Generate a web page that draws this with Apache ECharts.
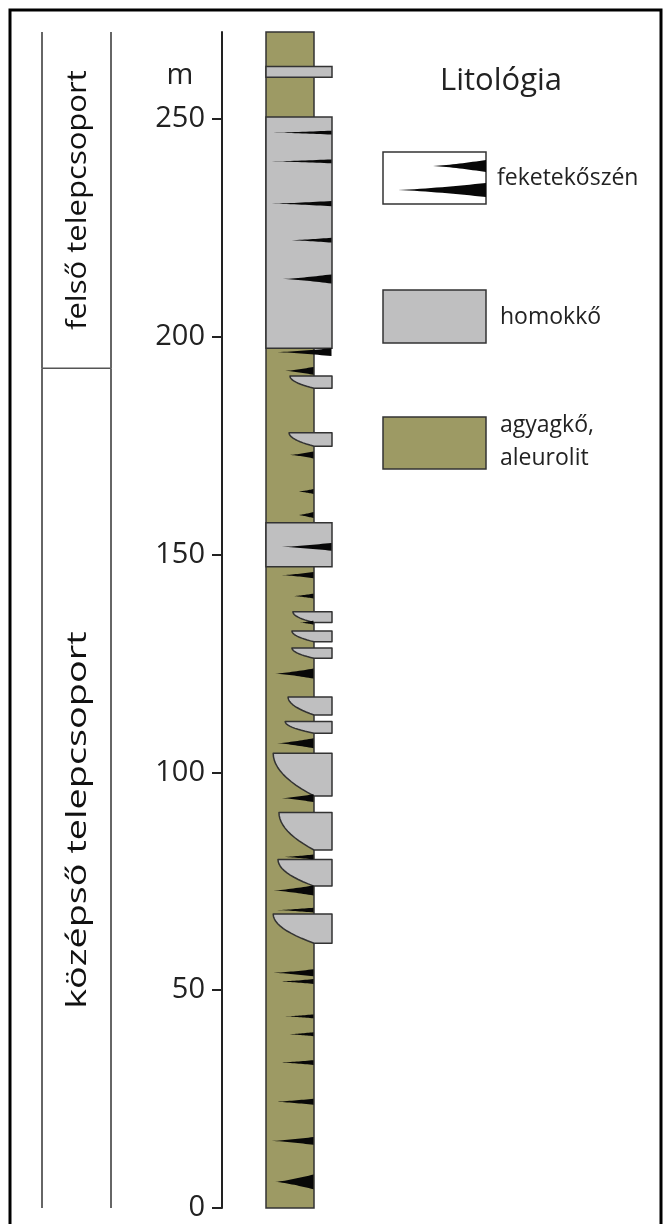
<!DOCTYPE html>
<html>
<head>
<meta charset="utf-8">
<script src="https://cdn.jsdelivr.net/npm/echarts@6/dist/echarts.min.js"></script>
<style>
html, body { margin: 0; padding: 0; background: #fff; }
#chart { width: 665px; height: 1224px; }
</style>
</head>
<body>
<div id="chart"></div>
<script>
// depth scale (m)
var depthTicks = [0, 50, 100, 150, 200, 250];
var columnBase = 0;
var columnTop = 270;

// stratigraphic units
var unitNames = ['középső telepcsoport', 'felső telepcsoport'];
var unitBase = [0, 192.8];
var unitTop = [192.8, 270];

// lithology width scale: claystone = 1, sandstone wider
var clayWidth = 1;
var sandWidth = 1.375;

// full width sandstone beds: [top, base]
var sandBeds = [
    [262.1, 259.6],
    [250.5, 197.4],
    [157.3, 147.2]
];

// sandstone tongues in the claystone: [top, base, left edge at top]
var sandTongues = [
    [191.0, 188.2, 0.50],
    [178.0, 174.9, 0.48],
    [136.9, 134.4, 0.56],
    [132.5, 130.0, 0.54],
    [128.6, 126.2, 0.54],
    [117.3, 113.2, 0.46],
    [111.7, 109.0, 0.40],
    [104.4, 94.6, 0.15],
    [90.8, 82.2, 0.27],
    [80.0, 73.9, 0.25],
    [67.5, 60.8, 0.15]
];

// coal seams: [depth, thickness, tip, right edge]
var coalSeams = [
    [246.9, 0.9, 0.15, 1.375],
    [240.3, 0.9, 0.12, 1.375],
    [230.6, 1.2, 0.12, 1.375],
    [222.2, 1.1, 0.48, 1.375],
    [213.3, 2.1, 0.35, 1.375],
    [196.5, 1.8, 0.23, 1.375],
    [192.2, 1.8, 0.40, 1],
    [172.9, 1.6, 0.50, 1],
    [164.5, 1.1, 0.67, 1],
    [159.1, 1.4, 0.67, 1],
    [151.8, 1.8, 0.33, 1.375],
    [145.3, 1.4, 0.33, 1],
    [140.5, 1.1, 0.56, 1],
    [134.4, 0.9, 0.71, 1],
    [122.7, 2.3, 0.19, 1],
    [106.7, 2.3, 0.23, 1],
    [94.1, 1.8, 0.33, 1],
    [80.6, 1.1, 0.35, 1],
    [72.9, 2.3, 0.15, 1],
    [68.4, 1.1, 0.23, 1],
    [54.0, 1.6, 0.15, 1],
    [52.0, 1.1, 0.29, 1],
    [44.0, 0.9, 0.40, 1],
    [39.9, 0.9, 0.46, 1],
    [33.4, 1.1, 0.29, 1],
    [24.4, 1.4, 0.19, 1],
    [15.4, 1.8, 0.12, 1],
    [6.0, 3.4, 0.19, 1]
];

var legendNames = ['feketekőszén', 'homokkő', 'agyagkő,\naleurolit'];

var CLAY = '#9d9a64';
var SAND = '#bfbfc0';
var COAL = '#080808';
var EDGE = '#333';
var FONT = '"Open Sans", sans-serif';

// unit label look (stretch along the baseline, shift down in px)
var unitLabelStretch = [1.4, 1.15];
var unitLabelShift = [32, 0];

// tapering coal wedge, pixel space
function wedge(x0, x1, cy, th) {
    var pts = [], n = 16, i, s, h;
    for (i = 0; i <= n; i++) {
        s = i / n; h = th / 2 * Math.pow(s, 1.3);
        pts.push([x0 + (x1 - x0) * s, cy - h]);
    }
    for (i = n; i >= 0; i--) {
        s = i / n; h = th / 2 * Math.pow(s, 1.3);
        pts.push([x0 + (x1 - x0) * s, cy + h]);
    }
    return pts;
}

var myChart = echarts.init(document.getElementById('chart'));

var option = {
    animation: false,
    grid: [
        { left: 266, width: 67.2, top: 32, bottom: 16 },
        { left: 42, width: 69, top: 32, bottom: 16 }
    ],
    xAxis: [
        { type: 'value', gridIndex: 0, min: 0, max: 1.4, show: false },
        { type: 'value', gridIndex: 1, min: 0, max: 1, show: false }
    ],
    yAxis: [
        {
            type: 'value', gridIndex: 0, min: columnBase, max: columnTop, interval: 50,
            offset: 44,
            axisLine: { show: true, onZero: false, lineStyle: { color: '#222', width: 2 } },
            axisTick: { show: true, length: 10, lineStyle: { color: '#222', width: 2 }, customValues: depthTicks },
            axisLabel: { margin: 17, fontSize: 29, color: '#222', fontFamily: FONT, customValues: depthTicks },
            splitLine: { show: false }
        },
        { type: 'value', gridIndex: 1, min: columnBase, max: columnTop, show: false }
    ],
    graphic: [
        { type: 'rect', silent: true, shape: { x: 10, y: 10, width: 651, height: 1240 },
          style: { fill: 'none', stroke: '#000', lineWidth: 3 } },
        { type: 'text', x: 180, y: 76, style: { text: 'm', fontSize: 29, fontFamily: FONT, fill: '#222', align: 'center', verticalAlign: 'middle' } },
        { type: 'text', x: 501, y: 81, style: { text: 'Litológia', fontSize: 31, fontFamily: FONT, fill: '#222', align: 'center', verticalAlign: 'middle' } },
        { type: 'rect', shape: { x: 383, y: 152, width: 103, height: 52 }, style: { fill: '#fff', stroke: EDGE, lineWidth: 1.5 } },
        { type: 'polygon', shape: { points: wedge(433, 486, 166, 12) }, style: { fill: COAL } },
        { type: 'polygon', shape: { points: wedge(398, 486, 190, 14) }, style: { fill: COAL } },
        { type: 'rect', shape: { x: 383, y: 290, width: 103, height: 53 }, style: { fill: SAND, stroke: EDGE, lineWidth: 1.5 } },
        { type: 'rect', shape: { x: 383, y: 417, width: 103, height: 52 }, style: { fill: CLAY, stroke: EDGE, lineWidth: 1.5 } },
        { type: 'text', x: 497, y: 178, style: { text: legendNames[0], fontSize: 23, fontFamily: FONT, fill: '#222', verticalAlign: 'middle' } },
        { type: 'text', x: 500, y: 317, style: { text: legendNames[1], fontSize: 23, fontFamily: FONT, fill: '#222', verticalAlign: 'middle' } },
        { type: 'text', x: 500, y: 442, style: { text: legendNames[2], fontSize: 23, lineHeight: 33, fontFamily: FONT, fill: '#222', verticalAlign: 'middle' } }
    ],
    series: [
        {
            // claystone background column
            type: 'custom', xAxisIndex: 0, yAxisIndex: 0, clip: false,
            data: [[columnBase, columnTop]],
            renderItem: function (params, api) {
                var p0 = api.coord([0, api.value(1)]);
                var p1 = api.coord([clayWidth, api.value(0)]);
                return { type: 'rect', shape: { x: p0[0], y: p0[1], width: p1[0] - p0[0], height: p1[1] - p0[1] },
                         style: { fill: CLAY, stroke: EDGE, lineWidth: 1.5 } };
            }
        },
        {
            type: 'custom', xAxisIndex: 0, yAxisIndex: 0, clip: false,
            data: sandBeds,
            renderItem: function (params, api) {
                var p0 = api.coord([0, api.value(0)]);
                var p1 = api.coord([sandWidth, api.value(1)]);
                return { type: 'rect', shape: { x: p0[0], y: p0[1], width: p1[0] - p0[0], height: p1[1] - p0[1] },
                         style: { fill: SAND, stroke: EDGE, lineWidth: 1.5 } };
            }
        },
        {
            type: 'custom', xAxisIndex: 0, yAxisIndex: 0, clip: false,
            data: sandTongues,
            renderItem: function (params, api) {
                var top = api.value(0), base = api.value(1), tl = api.value(2);
                var pts = [api.coord([sandWidth, top]), api.coord([tl, top])];
                for (var i = 1; i <= 12; i++) {
                    var t = i / 12;
                    pts.push(api.coord([tl + (clayWidth - tl) * t * t, top - (top - base) * t]));
                }
                pts.push(api.coord([sandWidth, base]));
                return { type: 'polygon', shape: { points: pts },
                         style: { fill: SAND, stroke: EDGE, lineWidth: 1.5, lineJoin: 'round' } };
            }
        },
        {
            type: 'custom', xAxisIndex: 0, yAxisIndex: 0, clip: false,
            data: coalSeams,
            renderItem: function (params, api) {
                var d = api.value(0);
                var a = api.coord([api.value(2), d]);
                var b = api.coord([api.value(3), d]);
                var th = api.size([0, api.value(1)])[1];
                return { type: 'polygon', shape: { points: wedge(a[0], b[0] - 0.5, a[1], th) }, style: { fill: COAL } };
            }
        },
        {
            // stratigraphic unit column
            type: 'custom', xAxisIndex: 1, yAxisIndex: 1, clip: false,
            data: unitNames.map(function (n, i) { return [unitBase[i], unitTop[i], i]; }),
            renderItem: function (params, api) {
                var base = api.value(0), top = api.value(1), i = api.value(2);
                var lb = api.coord([0, base]), rt = api.coord([1, top]);
                var ls = { stroke: '#666', lineWidth: 2 };
                var kids = [
                    { type: 'line', shape: { x1: lb[0], y1: lb[1], x2: lb[0], y2: rt[1] }, style: ls },
                    { type: 'line', shape: { x1: rt[0], y1: lb[1], x2: rt[0], y2: rt[1] }, style: ls }
                ];
                if (top < columnTop) {
                    kids.push({ type: 'line', shape: { x1: lb[0], y1: rt[1], x2: rt[0], y2: rt[1] }, style: { stroke: '#555', lineWidth: 1.5 } });
                }
                var mid = api.coord([0.5, (base + top) / 2]);
                kids.push({ type: 'text', x: mid[0] + 2, y: mid[1] + unitLabelShift[i], rotation: Math.PI / 2, scaleX: unitLabelStretch[i],
                    style: { text: unitNames[i], fontSize: 27, fontFamily: FONT, fill: '#111', align: 'center', verticalAlign: 'middle' } });
                return { type: 'group', children: kids };
            }
        }
    ]
};

myChart.setOption(option);
</script>
</body>
</html>
